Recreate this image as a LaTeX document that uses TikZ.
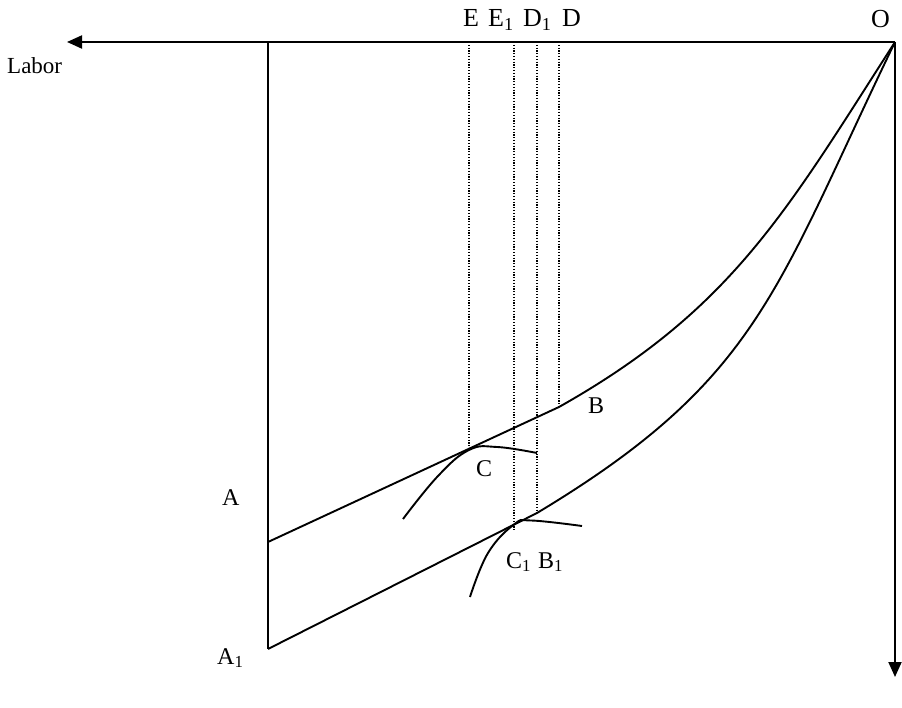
\documentclass[tikz,border=0pt]{standalone}
\usepackage{fontspec}
\setmainfont{Liberation Serif}
\usetikzlibrary{arrows.meta}
\begin{document}
\begin{tikzpicture}[x=1pt,y=-1pt,
  axisline/.style={line width=2pt,-{Triangle[length=15pt,width=13pt]}},
  mainline/.style={line width=1.9pt},
  guide/.style={line width=1.2pt,dash pattern=on 1.2pt off 1.6pt},
  lbl/.style={anchor=base west,inner sep=0pt,font=\fontsize{24}{28}\selectfont},
  toplbl/.style={anchor=base west,inner sep=0pt,font=\fontsize{26}{30}\selectfont}]
\useasboundingbox (0,0) rectangle (902,708);
% key points
\coordinate (O) at (895,42);
\coordinate (Lend) at (67,42);
\coordinate (Dend) at (895,677);
\coordinate (T) at (268,42);
\coordinate (A) at (268,542);
\coordinate (A1) at (268,649);
\coordinate (B) at (559,407);
\coordinate (B1) at (537,513);
\coordinate (C) at (469,450);
\coordinate (C1) at (514,524.5);
\coordinate (Et) at (469,42);
\coordinate (E1t) at (514,42);
\coordinate (D1t) at (537,42);
\coordinate (Dt) at (559,42);
\coordinate (E1b) at (514,530);
% axes
\draw[axisline] (O) -- (Lend);
\draw[axisline] (O) -- (Dend);
\draw[mainline] (T) -- (A1);
% guides
\draw[guide] (Et) -- (C);
\draw[guide] (E1t) -- (E1b);
\draw[guide] (D1t) -- (B1);
\draw[guide] (Dt) -- (B);
% upper curve
\draw[mainline,line join=round] (A) -- (B) .. controls (733,309) and (787,210) .. (O);
% lower curve
\draw[mainline,line join=round] (A1) -- (B1) .. controls (760,379) and (775,290) .. (O);
% indifference curves
\draw[mainline] plot[smooth,tension=0.7] coordinates {(403,519) (438,476) (469,450) (497,447) (537,453)};
\draw[mainline] plot[smooth,tension=0.7] coordinates {(470,597) (488,553) (514,524.5) (531,520.5) (582,526)};
% labels
\node[toplbl] (lE) at (463,27) {E};
\node[toplbl] (lE1) at (488,27) {E\textsubscript{1}};
\node[toplbl] (lD1) at (523,27) {D\textsubscript{1}};
\node[toplbl] (lD) at (562,27) {D};
\node[toplbl] (lO) at (871,28) {O};
\node[lbl,font=\fontsize{23}{27}\selectfont] (lLabor) at (7,74) {Labor};
\node[lbl] (lA) at (222,505) {A};
\node[lbl] (lA1) at (217,664) {A\textsubscript{1}};
\node[lbl] (lB) at (588,413) {B};
\node[lbl] (lC) at (476,476) {C};
\node[lbl] (lC1) at (506,568) {C\textsubscript{1}};
\node[lbl] (lB1) at (538,568) {B\textsubscript{1}};
\end{tikzpicture}
\end{document}
